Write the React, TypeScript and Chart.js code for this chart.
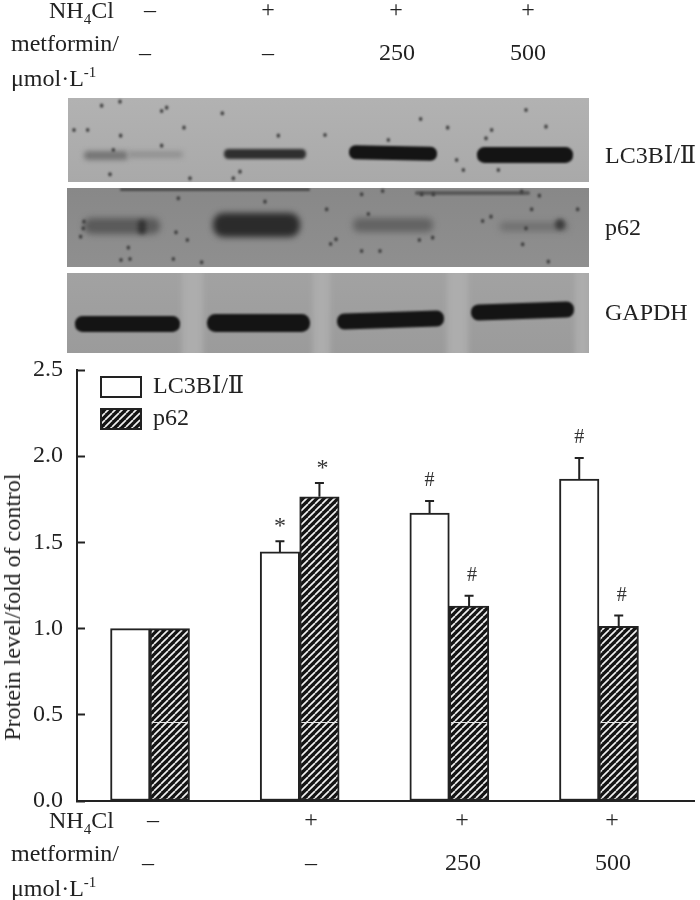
import React, { useEffect, useRef } from "react";
import { Chart, registerables } from "chart.js";

Chart.register(...registerables);

// ---- chart data ----
const groups = ["control", "NH4Cl", "NH4Cl + metformin 250", "NH4Cl + metformin 500"];
const lc3bValues = [1.0, 1.445, 1.67, 1.867];
const lc3bUpper = [null, 1.507, 1.74, 1.99];
const p62Values = [1.0, 1.765, 1.131, 1.013];
const p62Upper = [null, 1.845, 1.19, 1.076];
const lc3bMarks = ["", "*", "#", "#"];
const p62Marks = ["", "*", "#", "#"];
const yTicks = [0, 0.5, 1, 1.5, 2, 2.5];
const nh4clRow = ["–", "+", "+", "+"];
const metforminRow = ["–", "–", "250", "500"];
const legendNames = ["LC3BⅠ/Ⅱ", "p62"];
const yTitle = "Protein level/fold of control";
const blotNames = ["LC3BⅠ/Ⅱ", "p62", "GAPDH"];

const SERIF = '"Liberation Serif", "DejaVu Serif", "Times New Roman", serif';
const INK = "#222222";

function makeHatch(): CanvasPattern {
  const c = document.createElement("canvas");
  c.width = 7;
  c.height = 7;
  const g = c.getContext("2d")!;
  g.fillStyle = "#141414";
  g.fillRect(0, 0, 7, 7);
  g.strokeStyle = "#f0f0f0";
  g.lineWidth = 1.7;
  for (const d of [-7, 0, 7]) {
    g.beginPath();
    g.moveTo(d, 7);
    g.lineTo(d + 7, 0);
    g.stroke();
  }
  return g.createPattern(c, "repeat")!;
}

const legendPlacer = {
  id: "legendPlacer",
  afterLayout(chart: any) {
    const l = chart.legend;
    l.left = 93;
    l.top = 367;
    l.right = l.left + l.width;
    l.bottom = l.top + l.height;
    l.adjustHitBoxes();
  },
};

const marksPlugin = {
  id: "marks",
  afterDatasetsDraw(chart: any) {
    const { ctx, scales } = chart;
    const y = scales.y;
    const series = [
      { upper: lc3bUpper, marks: lc3bMarks, shift: 0 },
      { upper: p62Upper, marks: p62Marks, shift: 3 },
    ];
    ctx.save();
    series.forEach((s, di) => {
      const meta = chart.getDatasetMeta(di);
      meta.data.forEach((bar: any, i: number) => {
        if (di === 1) {
          // thin light scan line that crosses the hatched bars of the source figure
          ctx.strokeStyle = "#e6e6e6";
          ctx.lineWidth = 1;
          const sl = Math.round(y.getPixelForValue(0.46)) + 0.5;
          ctx.beginPath();
          ctx.moveTo(bar.x - 18, sl);
          ctx.lineTo(bar.x + 18, sl);
          ctx.stroke();
        }
        const up = s.upper[i];
        if (up == null) return;
        const py = y.getPixelForValue(up);
        ctx.strokeStyle = INK;
        ctx.lineWidth = 2;
        ctx.beginPath();
        ctx.moveTo(bar.x, bar.y);
        ctx.lineTo(bar.x, py);
        ctx.moveTo(bar.x - 4.5, py);
        ctx.lineTo(bar.x + 4.5, py);
        ctx.stroke();
        const mark = s.marks[i];
        ctx.fillStyle = "#333";
        ctx.textAlign = "center";
        ctx.textBaseline = "middle";
        ctx.font = mark === "*" ? `24px ${SERIF}` : `20px ${SERIF}`;
        ctx.fillText(mark, bar.x + s.shift, py + (mark === "*" ? -14 : -20));
      });
    });
    ctx.restore();
  },
};

// ---- blot picture: panels, lanes and specks of the scanned membranes ----
// band: left, top, width, height, colour, blur, slant
type Band = [number, number, number, number, string, number, number];
const panels: { top: number; bottom: number; left: number; fill: [string, string]; bands: Band[]; gaps: [number, number][] }[] = [
  {
    top: 98, bottom: 182, left: 68, fill: ["#b2b2b2", "#a9a9a9"], gaps: [],
    bands: [
      [84, 151, 44, 9, "#757575", 2.5, 0], [128, 151, 55, 7, "#929292", 2.5, 0],
      [224, 149, 82, 10, "#2f2f2f", 1.8, 0], [349, 146, 88, 14, "#141414", 1.3, 0.02], [477, 147, 96, 16, "#141414", 1.3, 0],
    ],
  },
  {
    top: 188, bottom: 267, left: 67, fill: ["#888888", "#8f8f8f"], gaps: [],
    bands: [
      [84, 218, 76, 16, "#5a5a5a", 3, 0], [138, 220, 8, 14, "#333333", 2, 0],
      [213, 213, 87, 24, "#2b2b2b", 3, 0], [353, 218, 80, 14, "#636363", 3, 0],
      [500, 222, 68, 9, "#707070", 3, 0], [555, 219, 10, 11, "#3e3e3e", 2, 0],
      [120, 188, 190, 3, "#4a4a4a", 1, 0], [415, 191, 115, 4, "#585858", 1, 0],
    ],
  },
  {
    top: 273, bottom: 353, left: 67, fill: ["#a2a2a2", "#9b9b9b"],
    gaps: [[182, 203], [313, 330], [447, 468], [575, 590]],
    bands: [
      [75, 316, 105, 16, "#141414", 1.2, 0], [207, 314, 103, 18, "#141414", 1.2, 0],
      [337, 312, 107, 16, "#141414", 1.2, -0.03], [471, 303, 103, 16, "#141414", 1.2, -0.035],
    ],
  },
];
const specksLeft: [number, number][] = [
  [180, 20], [125, 32], [305, 48], [320, 38], [42, 105], [83, 105], [182, 122], [305, 152], [372, 98], [487, 55],
  [160, 165], [390, 250], [520, 250], [540, 230], [150, 238], [795, 120], [655, 122], [355, 310], [72, 380], [70, 400],
  [62, 425], [348, 412], [382, 435], [205, 458], [183, 495], [210, 492], [340, 492], [425, 502], [615, 320], [800, 343],
];
const specksRight: [number, number][] = [
  [272, 72], [353, 98], [175, 135], [588, 45], [485, 105], [648, 95], [468, 130], [95, 298], [158, 288], [310, 298],
  [275, 298], [575, 290], [628, 302], [605, 343], [743, 343], [115, 357], [458, 378], [483, 365], [588, 400], [268, 435],
  [308, 428], [18, 433], [2, 447], [95, 468], [150, 468], [578, 448], [655, 500], [400, 225], [505, 225], [380, 195],
];

function Blots() {
  const ref = useRef<HTMLCanvasElement>(null);
  useEffect(() => {
    const g = ref.current!.getContext("2d")!;
    const right = 589;
    panels.forEach((p) => {
      const grad = g.createLinearGradient(0, p.top, 0, p.bottom);
      grad.addColorStop(0, p.fill[0]);
      grad.addColorStop(1, p.fill[1]);
      g.fillStyle = grad;
      g.fillRect(p.left, p.top, right - p.left, p.bottom - p.top);
      g.save();
      g.beginPath();
      g.rect(p.left, p.top, right - p.left, p.bottom - p.top);
      g.clip();
      p.gaps.forEach(([a, b]) => {
        g.filter = "blur(3px)";
        g.fillStyle = "#adadad";
        g.fillRect(a, p.top - 6, b - a, p.bottom - p.top + 12);
      });
      p.bands.forEach(([x, y, w, h, col, blur, slant]) => {
        g.filter = `blur(${blur}px)`;
        g.fillStyle = col;
        g.save();
        g.translate(x + w / 2, y + h / 2);
        g.rotate(slant);
        g.beginPath();
        g.roundRect(-w / 2, -h / 2, w, h, h / 2.2);
        g.fill();
        g.restore();
      });
      g.restore();
    });
    g.filter = "blur(0.9px)";
    g.fillStyle = "#3c3c3c";
    const dot = (x: number, y: number) => {
      g.beginPath();
      g.ellipse(x, y, 1.7, 2.1, 0, 0, Math.PI * 2);
      g.fill();
    };
    specksLeft.forEach(([zx, zy]) => dot(60 + zx / 3, 95 + zy / 3));
    specksRight.forEach(([zx, zy]) => dot(330 + zx / 3, 95 + zy / 3));
    g.filter = "none";
  }, []);
  return <canvas ref={ref} width={700} height={360} style={{ position: "absolute", left: 0, top: 0 }} />;
}

function Txt(props: { x: number; y: number; center?: boolean; children: React.ReactNode }) {
  return (
    <span
      style={{
        position: "absolute",
        left: props.x,
        top: props.y - 14,
        lineHeight: "28px",
        transform: props.center ? "translateX(-50%)" : undefined,
        whiteSpace: "nowrap",
      }}
    >
      {props.children}
    </span>
  );
}

function Conditions(props: { top: number; nhX: number[]; metX: number[] }) {
  const t = props.top;
  return (
    <>
      <Txt x={49} y={t}>
        NH<sub style={{ fontSize: 15, lineHeight: 0 }}>4</sub>Cl
      </Txt>
      <Txt x={11} y={t + 33}>metformin/</Txt>
      <Txt x={11} y={t + 68}>
        μmol·L<sup style={{ fontSize: 15, lineHeight: 0 }}>-1</sup>
      </Txt>
      {nh4clRow.map((v, i) => (
        <Txt key={i} x={props.nhX[i]} y={t - 1} center>{v}</Txt>
      ))}
      {metforminRow.map((v, i) => (
        <Txt key={i} x={props.metX[i]} y={t + 42} center>{v}</Txt>
      ))}
    </>
  );
}

export default function App() {
  const ref = useRef<HTMLCanvasElement>(null);
  useEffect(() => {
    const hatch = makeHatch();
    const barStyle = { borderColor: INK, borderWidth: 2, barThickness: 39.5, borderSkipped: false };
    const chart = new Chart(ref.current!, {
      type: "bar",
      data: {
        datasets: [
          {
            label: legendNames[0],
            data: groups.map((_, i) => ({ x: i, y: lc3bValues[i] })),
            backgroundColor: "#ffffff",
            ...barStyle,
          },
          {
            label: legendNames[1],
            data: groups.map((_, i) => ({ x: i, y: p62Values[i] })),
            backgroundColor: hatch,
            ...barStyle,
          },
        ],
      },
      plugins: [legendPlacer, marksPlugin],
      options: {
        responsive: false,
        animation: false,
        layout: { padding: { left: 0, top: 370, right: 6, bottom: 99 } },
        plugins: {
          tooltip: { enabled: false },
          legend: {
            position: "chartArea",
            align: "start",
            onClick: undefined,
            labels: {
              boxWidth: 40,
              boxHeight: 20,
              padding: 8,
              color: "#222",
              font: { family: SERIF, size: 24 },
            },
          },
        },
        scales: {
          x: {
            type: "linear",
            offset: false,
            min: -0.488,
            max: 3.635,
            grid: { display: false, offset: false },
            border: { color: INK, width: 2 },
            ticks: { display: false },
            afterFit(s: any) {
              s.height = 0;
            },
          },
          y: {
            min: 0,
            max: 2.5,
            afterBuildTicks(s: any) {
              s.ticks = yTicks.map((value) => ({ value }));
            },
            afterFit(s: any) {
              s.width = 77;
            },
            border: { color: INK, width: 2 },
            grid: { drawOnChartArea: false, tickLength: -8, tickColor: INK, tickWidth: 2 },
            ticks: {
              padding: 22,
              color: "#222",
              font: { family: SERIF, size: 24 },
              callback: (v: any) => Number(v).toFixed(1),
            },
          },
        },
      },
    } as any);
    return () => chart.destroy();
  }, []);

  return (
    <div
      style={{
        position: "absolute",
        left: 0,
        top: 0,
        width: 700,
        height: 900,
        overflow: "hidden",
        background: "#fff",
        color: "#222",
        fontFamily: SERIF,
        fontSize: 24,
      }}
    >
      <Blots />
      <canvas ref={ref} width={700} height={900} style={{ position: "absolute", left: 0, top: 0 }} />
      <span
        style={{
          position: "absolute",
          left: 12,
          top: 607,
          lineHeight: "28px",
          whiteSpace: "nowrap",
          transform: "translate(-50%, -50%) rotate(-90deg)",
        }}
      >
        {yTitle}
      </span>
      <Conditions top={10} nhX={[150, 268, 396, 528]} metX={[145, 268, 397, 528]} />
      <Conditions top={820} nhX={[153, 311, 462, 612]} metX={[148, 311, 463, 613]} />
      <Txt x={605} y={155}>{blotNames[0]}</Txt>
      <Txt x={605} y={227}>{blotNames[1]}</Txt>
      <Txt x={605} y={312}>{blotNames[2]}</Txt>
    </div>
  );
}
